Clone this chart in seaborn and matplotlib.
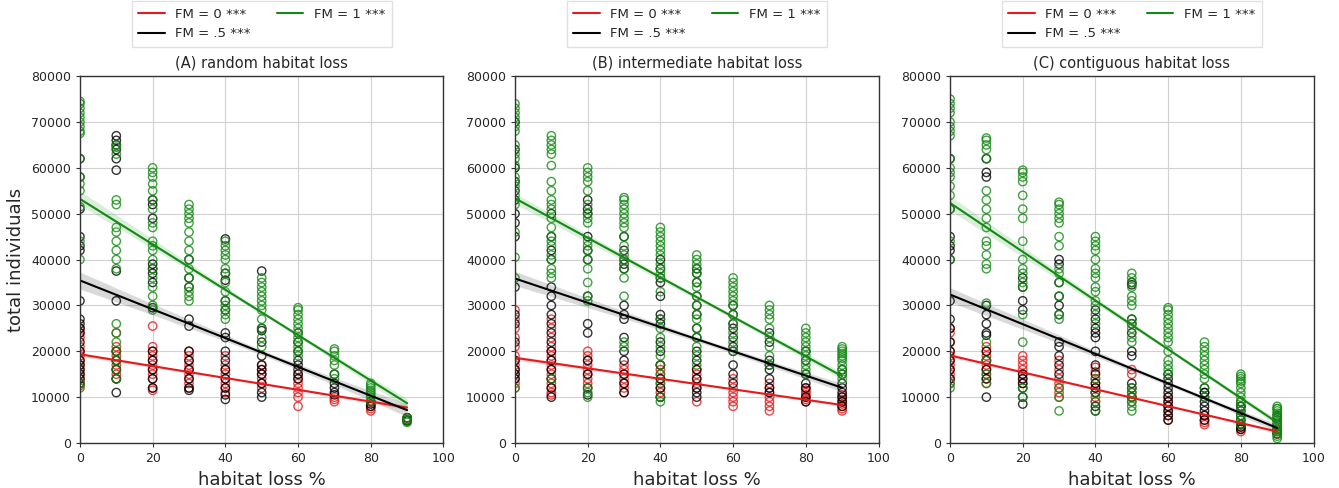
import numpy as np
import pandas as pd
import matplotlib
matplotlib.use("Agg")
import matplotlib.pyplot as plt
import seaborn as sns

# ---------------- data ----------------
habitat_loss = [0, 10, 20, 30, 40, 50, 60, 70, 80, 90]
fm_labels = ["FM = 0 ***", "FM = .5 ***", "FM = 1 ***"]
panel_titles = ["(A) random habitat loss", "(B) intermediate habitat loss",
                "(C) contiguous habitat loss"]

# Panel A: random habitat loss
A_fm0 = {
    0: [25000, 24000, 23000, 21000, 20000, 19000, 18000, 17000, 16000, 15000, 14000, 13000, 12500],
    10: [24000, 21000, 20000, 19000, 18000, 17000, 16000, 15000, 14000],
    20: [25500, 21000, 20000, 19000, 18000, 17000, 16000, 15000, 14000, 12000, 11500],
    30: [20000, 19000, 18000, 17000, 16000, 15000, 14000, 13000, 12000],
    40: [19000, 17000, 16000, 15000, 14000, 13000, 12000, 11000],
    50: [17000, 16000, 15000, 14000, 13000, 12000],
    60: [15000, 14000, 13000, 12000, 11000, 10000, 8000],
    70: [10000, 9500, 9000],
    80: [8000, 7500, 7000],
    90: [5500, 5000],
}
A_fm05 = {
    0: [62000, 58000, 51000, 45000, 43000, 42000, 31000, 27000, 26000, 25000, 24000, 22000, 20000, 18000, 17000, 16000, 15000, 14000, 13000],
    10: [67000, 66000, 65000, 64000, 62000, 59500, 37500, 31000, 20000, 18000, 16000, 14000, 11000],
    20: [53000, 52000, 49000, 39000, 38000, 37000, 35000, 29500, 20000, 18000, 16000, 14000, 12000],
    30: [40000, 36000, 34000, 27000, 25500, 20000, 18000, 16000, 14000, 12000, 11500],
    40: [44500, 37000, 35500, 31000, 29000, 24000, 23000, 20000, 18000, 16000, 14000, 12000, 10500, 9500],
    50: [37500, 25000, 24500, 22000, 19000, 17000, 16000, 15000, 13000, 11000, 10000],
    60: [24000, 22000, 20000, 18000, 17000, 16000, 15000, 14000],
    70: [15000, 13000, 12000, 11000, 10500],
    80: [9000, 8500, 8000],
    90: [5500, 5000, 4800],
}
A_fm1 = {
    0: [74500, 74000, 73000, 72000, 71000, 70000, 69000, 68000, 67500, 62000, 58000, 56500, 55000, 51500, 44000, 40000, 13000, 12000],
    10: [65000, 64500, 63000, 53000, 52000, 47000, 46000, 44000, 42000, 40000, 38000, 26000, 24000, 22000, 20000, 18000, 16000, 14000],
    20: [60000, 59000, 58000, 56500, 55000, 53000, 51000, 48000, 47000, 44000, 43000, 42000, 40000, 38000, 36000, 34000, 32000, 30000, 29000],
    30: [52000, 51000, 50000, 49000, 48000, 46000, 44000, 42000, 40000, 38000, 36000, 34000, 33000, 32000, 31000],
    40: [44000, 43000, 42000, 41000, 40000, 38000, 37000, 35000, 33000, 31000, 30000, 29000, 28000, 27000],
    50: [36000, 35000, 34000, 33000, 32000, 31000, 30000, 29000, 27000, 25000, 23000, 21000],
    60: [29500, 29000, 28000, 27000, 26000, 25000, 24000, 23000, 22000, 21000, 20000, 19000],
    70: [20500, 20000, 19000, 18000, 17000, 15000, 14000],
    80: [13000, 12500, 12000, 11500, 11000, 10500, 10000, 9000],
    90: [5500, 5000, 4500],
}

# Panel B: intermediate habitat loss
B_fm0 = {
    0: [29000, 27000, 25000, 23000, 21000, 19000, 18000, 17000, 16000, 15000, 14000, 13000, 12000],
    10: [27000, 25000, 23000, 21000, 20000, 19000, 18000, 17000, 16000, 15000, 14000, 13000, 12000, 11000, 10500],
    20: [20000, 19000, 18000, 17000, 16000, 15000, 14000, 13000],
    30: [17000, 16000, 15000, 14000, 13000, 12000, 11000],
    40: [17000, 16000, 15000, 14000, 13000, 12000, 11000, 10000],
    50: [16000, 15000, 14000, 13000, 12000, 9000],
    60: [14000, 12000, 11000, 10000, 9000, 8000],
    70: [13000, 12000, 11000, 10000, 9000, 8000, 7000],
    80: [12000, 11500, 11000, 10500, 10000, 9500, 9000],
    90: [10500, 10000, 9500, 9000, 8500, 8000, 7500, 7000],
}
B_fm05 = {
    0: [70000, 64000, 60000, 57000, 55000, 53000, 50000, 48000, 45000, 34000, 28000, 26000, 22000, 18000, 16000, 15000, 14000],
    10: [50000, 45000, 42000, 40000, 34000, 32000, 30000, 28000, 26000, 24000, 22000, 20000, 18000, 16000, 14000, 12000, 10000],
    20: [53000, 51000, 50000, 45000, 42000, 40000, 32000, 26000, 24000, 18000, 15000, 12000, 10500],
    30: [45000, 42000, 40000, 39000, 38000, 30000, 28000, 27000, 23000, 20000, 18000, 15000, 13000, 11000],
    40: [40000, 38000, 36000, 35000, 32000, 28000, 27000, 26000, 22000, 20000, 17000, 14000, 12000, 10000],
    50: [38000, 37000, 35000, 32000, 30000, 28000, 25000, 23000, 20000, 18000, 16000, 14000, 12000, 11000, 10000],
    60: [30000, 28000, 26000, 25000, 23000, 21000, 20000, 17000, 15000, 13000],
    70: [24000, 22000, 18000, 17000, 16000, 14000, 12000, 11000],
    80: [20000, 18000, 15000, 13000, 12000, 10000, 9000],
    90: [16000, 15000, 13000, 12000, 11000, 10000, 9000, 8000],
}
B_fm1 = {
    0: [74000, 73000, 72000, 71000, 70000, 69000, 68000, 65000, 63000, 62000, 60500, 58000, 57000, 56000, 54000, 52000, 46000, 40500, 36000, 12000],
    10: [67000, 66000, 65000, 64000, 63000, 60500, 57000, 55000, 53000, 52000, 51000, 49000, 47000, 45000, 44000, 43000, 41000, 40000, 38000, 37000, 36000, 14000],
    20: [60000, 59000, 58000, 57000, 55000, 52000, 50000, 49000, 48000, 44000, 43000, 42000, 40000, 38000, 35000, 32000, 31000, 12000, 11000, 10000],
    30: [53500, 53000, 52000, 51000, 50000, 49000, 48000, 47000, 45000, 43000, 41000, 40000, 38000, 36000, 32000, 22000, 21000],
    40: [47000, 46000, 45000, 44000, 43000, 42000, 41000, 39000, 38000, 37000, 36000, 33000, 27000, 25000, 23000, 21000, 19000, 17000, 15000, 13000, 10000, 9000],
    50: [41000, 40000, 39000, 38000, 37000, 35000, 34000, 32000, 30000, 28000, 27000, 25000, 23000, 21000, 19000, 17000],
    60: [36000, 35000, 34000, 33000, 32000, 31000, 30000, 28000, 26000, 24000, 22000, 20000],
    70: [30000, 29000, 28000, 27000, 25000, 23000, 21000, 19000, 17000],
    80: [25000, 24000, 23000, 22000, 21000, 20000, 19000, 18000, 17000, 16000, 15000],
    90: [21000, 20500, 20000, 19500, 19000, 18500, 18000, 17000, 16000, 15000, 14000],
}

# Panel C: contiguous habitat loss
C_fm0 = {
    0: [25000, 24000, 22000, 20000, 19000, 18000, 17000, 16000, 15000, 14000, 13000],
    10: [21000, 20000, 19000, 18000, 17000, 16000, 15000, 14000, 13000],
    20: [19000, 18000, 17000, 16000, 15000, 14000, 13000],
    30: [18000, 16000, 14000, 13000, 12000, 11000, 10000],
    40: [16500, 15500, 14000, 13000, 12000, 11000, 10000, 9000],
    50: [16000, 15000, 11000, 10000, 9000],
    60: [10000, 9000, 8000, 7000, 6000, 5000],
    70: [6000, 5000, 4500, 4000],
    80: [4000, 3500, 3000, 2500],
    90: [3000, 2500, 2000],
}
C_fm05 = {
    0: [62000, 51000, 45000, 43000, 42000, 40000, 31000, 27000, 25000, 22000, 20000, 18000, 16000, 14000],
    10: [62000, 59000, 58000, 30000, 28000, 26000, 24000, 23500, 20000, 18000, 16000, 14000, 10000],
    20: [36000, 34000, 31000, 29000, 15000, 14000, 13000, 12000, 10000, 8500],
    30: [40000, 39000, 35000, 32000, 30000, 28000, 22000, 21000, 19000, 17000, 15000],
    40: [29000, 27000, 25000, 24000, 23000, 20000, 17000, 15000, 13000, 12000, 11000, 8000, 7000],
    50: [35000, 34500, 27000, 26000, 24000, 20000, 19000, 13000, 12000, 10000],
    60: [15000, 14000, 13000, 12000, 11000, 10000, 9000, 8000, 7000, 6000, 5000],
    70: [12000, 11000, 11000, 10000, 9000, 8000, 7000, 6000, 5000],
    80: [9000, 8000, 8000, 7000, 6000, 5000, 4000, 3500, 3000],
    90: [6000, 5500, 5000, 4000, 3000, 2000],
}
C_fm1 = {
    0: [75000, 74000, 73000, 72000, 70000, 69000, 68000, 67000, 62000, 60000, 59000, 58000, 56000, 54000, 51000, 44000, 40000, 13000, 12000],
    10: [66500, 66000, 65000, 64000, 62000, 55000, 53000, 51000, 49000, 47000, 44000, 43000, 41000, 39000, 38000, 30500, 22000, 18000, 15000, 13000],
    20: [59500, 59000, 58000, 57000, 54000, 51000, 49000, 44000, 40000, 38000, 37000, 35000, 34000, 28000, 22000, 12000, 10000],
    30: [52500, 52000, 51000, 50000, 49000, 48000, 45000, 43000, 38000, 37000, 35000, 32000, 28000, 27000, 12000, 10000, 7000],
    40: [45000, 44000, 43000, 42000, 40000, 38000, 37000, 36000, 34000, 33000, 31000, 30000, 28000, 26000, 14000, 11000, 9000, 7000],
    50: [37000, 36000, 35000, 34000, 32000, 31000, 30000, 27000, 26000, 25000, 23000, 22000, 12000, 11000, 10000, 9000, 8000, 7000],
    60: [29500, 29000, 28000, 27000, 26000, 25000, 24000, 23000, 22000, 20000, 18000, 17000, 16000, 15000],
    70: [22000, 21000, 20000, 19000, 18000, 17000, 16000, 15000, 14000, 12000, 10000],
    80: [15000, 14500, 14000, 13500, 13000, 12000, 11000, 10000, 9000, 8000, 7000, 6000, 5000, 4000],
    90: [8000, 7500, 7500, 7000, 6500, 6000, 5500, 5000, 4500, 4000, 3500, 3000, 2500, 2000, 1500, 1000],
}

panels = [(A_fm0, A_fm05, A_fm1), (B_fm0, B_fm05, B_fm1), (C_fm0, C_fm05, C_fm1)]
colors = ["#e41a1c", "black", "#138a13"]


def to_frame(d):
    xs, ys = [], []
    for x, vals in d.items():
        xs.extend([x] * len(vals))
        ys.extend(vals)
    return pd.DataFrame({"habitat loss %": xs, "total individuals": ys})


# ---------------- figure ----------------
sns.set_style("whitegrid", {"axes.edgecolor": "0.2", "grid.color": "0.82",
                            "xtick.bottom": True, "ytick.left": True})
plt.rcParams["font.family"] = ["DejaVu Sans"]

fig = plt.figure(figsize=(13.39, 4.88), dpi=100)
lefts = [0.0597, 0.3846, 0.7095]
width = 0.2715
bottom, top = 0.0922, 0.844

for i, (groups, title) in enumerate(zip(panels, panel_titles)):
    ax = fig.add_axes([lefts[i], bottom, width, top - bottom])
    for d, lab, col in zip(groups, fm_labels, colors):
        df = to_frame(d)
        sns.regplot(data=df, x="habitat loss %", y="total individuals", ax=ax,
                    color=col, ci=50, seed=1,
                    scatter_kws={"s": 36, "facecolors": "none", "edgecolors": col,
                                 "linewidths": 1.0, "alpha": 0.8},
                    line_kws={"linewidth": 1.5, "label": lab})
    ax.set_xlim(0, 100)
    ax.set_ylim(0, 80000)
    ax.set_xticks([0, 20, 40, 60, 80, 100])
    ax.set_yticks(np.arange(0, 80001, 10000))
    ax.tick_params(labelsize=9, length=3, width=0.8, color="0.2")
    for s in ax.spines.values():
        s.set_linewidth(1.0)
    ax.set_title(title, fontsize=10.5, pad=6)
    ax.set_xlabel("habitat loss %", fontsize=13)
    if i == 0:
        ax.set_ylabel("total individuals", fontsize=13)
    else:
        ax.set_ylabel("")
    reg_lines = list(ax.lines[:3])
    ax.legend(handles=reg_lines, labels=fm_labels, loc="lower center",
              bbox_to_anchor=(0.5, 1.08), borderaxespad=0.0, ncol=2, fontsize=9.5,
              frameon=True, fancybox=False, edgecolor="0.85",
              columnspacing=2.0, handlelength=2.0, handletextpad=0.8,
              borderpad=0.5)

fig.savefig("out.png", dpi=100)
